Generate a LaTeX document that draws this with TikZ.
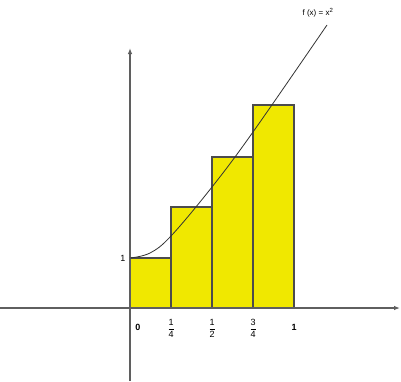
\documentclass[tikz,border=0pt]{standalone}
\usepackage{amsmath}
\usepackage{fontspec}
\setmainfont{Liberation Sans}
\usetikzlibrary{calc}
\usetikzlibrary{arrows.meta}
\definecolor{baryellow}{RGB}{240,232,0}
\definecolor{axisgray}{RGB}{95,95,95}
\newcommand{\tickfrac}[2]{$\dfrac{\text{#1}}{\text{#2}}$}

\begin{document}
\begin{tikzpicture}[x=1pt,y=-1pt,inner sep=0pt,
  axis/.style={draw=axisgray,line width=1.1pt,-{Latex[length=6pt,width=4.5pt]}},
  bar/.style={fill=baryellow,draw=black!70,line width=1.1pt},
  lbl/.style={font=\small}]
\useasboundingbox (0,0) rectangle (401,381);
\def\u{41}
\coordinate (o) at (130,308);
\coordinate (xl) at (0,308);
\coordinate (xr) at (400,308);
\coordinate (yb) at (130,381);
\coordinate (yt) at (130,48);

% bars
\foreach \i/\h in {0/50,1/101,2/151,3/203}
  \draw[bar] ($(o)+(\i*\u,0)$) rectangle ++(\u,-\h);

% axes
\draw[axis] (xl) -- (xr);
\draw[axis] (yb) -- (yt);

% curve
\draw[black!80,line width=0.8pt] plot[smooth,tension=0.6] coordinates
  {(130,258) (150,253) (171,236) (212,187) (253,132) (327,25)};

% labels
\node[lbl] (y1) at (123,258) {1};
\node[lbl] (x0) at (138,327) {\textbf{0}};
\node[lbl] (x1) at ($(o)+(4*\u,19)$) {\textbf{1}};
\node[lbl] (xa) at ($(o)+(1*\u,20)$) {\tickfrac{1}{4}};
\node[lbl] (xb) at ($(o)+(2*\u,20)$) {\tickfrac{1}{2}};
\node[lbl] (xc) at ($(o)+(3*\u,20)$) {\tickfrac{3}{4}};
\node[font=\footnotesize] (fx) at (318,13) {f (x) = x\textsuperscript{2}};
\end{tikzpicture}
\end{document}
